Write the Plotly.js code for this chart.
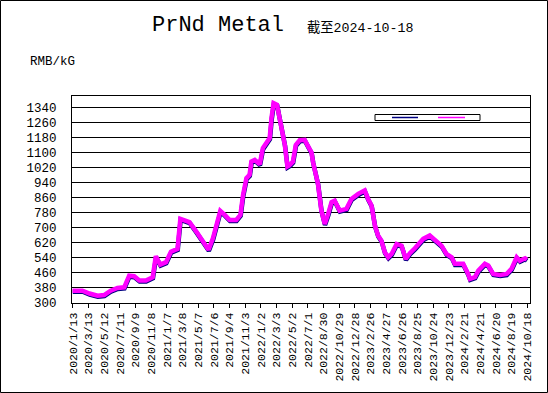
<!DOCTYPE html>
<html><head><meta charset="utf-8">
<script src="https://cdn.plot.ly/plotly-3.0.1.min.js"></script>
<style>html,body{margin:0;padding:0;background:#fff}</style>
</head><body><div id="chart" style="width:548px;height:393px"></div>
<script>
const dates = ['2020-01-13','2020-02-20','2020-03-18','2020-04-18','2020-05-13','2020-06-07','2020-07-03','2020-07-29','2020-08-17','2020-09-05','2020-09-25','2020-10-20','2020-11-15','2020-11-27','2020-12-14','2021-01-05','2021-01-24','2021-02-18','2021-03-01','2021-03-22','2021-04-05','2021-05-01','2021-05-26','2021-06-17','2021-07-04','2021-07-17','2021-08-01','2021-08-18','2021-09-06','2021-10-01','2021-10-17','2021-10-27','2021-11-09','2021-11-21','2021-11-28','2021-12-11','2021-12-30','2022-01-11','2022-01-31','2022-02-06','2022-02-13','2022-02-21','2022-03-06','2022-03-16','2022-03-27','2022-04-05','2022-04-15','2022-04-24','2022-05-06','2022-05-17','2022-06-01','2022-06-20','2022-07-07','2022-07-16','2022-07-22','2022-07-29','2022-08-10','2022-08-23','2022-09-05','2022-09-18','2022-10-01','2022-10-13','2022-11-01','2022-11-27','2022-12-16','2023-01-11','2023-02-05','2023-02-18','2023-03-03','2023-03-16','2023-03-28','2023-04-10','2023-04-23','2023-05-06','2023-05-19','2023-06-07','2023-06-26','2023-07-12','2023-07-28','2023-08-16','2023-09-04','2023-09-17','2023-10-12','2023-11-07','2023-11-26','2023-12-15','2024-01-04','2024-01-16','2024-02-17','2024-03-07','2024-03-14','2024-04-02','2024-04-15','2024-05-10','2024-05-23','2024-06-11','2024-07-07','2024-08-01','2024-08-20','2024-09-09','2024-09-21','2024-10-11','2024-10-18'];
const prices = [360,360,345,333,337,360,375,378,440,437,414,414,432,544,499,512,568,583,743,734,725,675,622,578,640,711,785,764,737,737,764,870,960,977,1048,1057,1034,1120,1155,1173,1280,1360,1351,1280,1208,1137,1022,1030,1048,1137,1162,1164,1120,1098,1045,992,929,787,716,769,832,840,787,796,849,876,894,849,814,707,654,627,565,538,556,609,600,529,560,586,615,636,654,627,600,556,538,503,503,449,423,432,467,503,494,449,444,449,476,538,520,533,526];
const tickDates = ['2020-01-13','2020-03-13','2020-05-12','2020-07-11','2020-09-09','2020-11-08','2021-01-07','2021-03-08','2021-05-07','2021-07-06','2021-09-04','2021-11-03','2022-01-02','2022-03-03','2022-05-02','2022-07-01','2022-08-30','2022-10-29','2022-12-28','2023-02-26','2023-04-27','2023-06-26','2023-08-25','2023-10-24','2023-12-23','2024-02-21','2024-04-21','2024-06-20','2024-08-19','2024-10-18'];
const tickLabels = ['2020/1/13','2020/3/13','2020/5/12','2020/7/11','2020/9/9','2020/11/8','2021/1/7','2021/3/8','2021/5/7','2021/7/6','2021/9/4','2021/11/3','2022/1/2','2022/3/3','2022/5/2','2022/7/1','2022/8/30','2022/10/29','2022/12/28','2023/2/26','2023/4/27','2023/6/26','2023/8/25','2023/10/24','2023/12/23','2024/2/21','2024/4/21','2024/6/20','2024/8/19','2024/10/18'];
const yTicks = [300,380,460,540,620,700,780,860,940,1020,1100,1180,1260,1340];

const FONT = "'Liberation Mono', 'Noto Sans CJK SC', monospace";
const traces = [
  {x: dates, y: prices, type:'scatter', mode:'lines', name:'navy',
   line:{color:'#000080', width:4.5}},
  {x: dates, y: prices, type:'scatter', mode:'lines', name:'magenta', xaxis:'x2', yaxis:'y2',
   line:{color:'#ff00ff', width:4.5}}
];
const px = (x) => (x-72)/458, py = (y) => (303-y)/207;
const layout = {
  width:548, height:393,
  margin:{l:72, r:18, t:96, b:90, pad:0},
  paper_bgcolor:'#fff', plot_bgcolor:'#fff',
  font:{family:FONT, color:'#000', size:12},
  showlegend:false,
  xaxis:{type:'date', range:['2020-01-10','2024-10-29'], tickvals:tickDates, ticktext:tickLabels,
    tickangle:-90, ticks:'outside', ticklen:4, tickcolor:'#000', tickwidth:1,
    showgrid:false, showline:true, mirror:true, linecolor:'#000', linewidth:1,
    tickfont:{size:11.5, family:FONT}, zeroline:false},
  yaxis:{range:[300,1403], tickvals:yTicks, ticktext:yTicks.map(String),
    showgrid:true, gridcolor:'#000', gridwidth:1, showline:true, mirror:true,
    linecolor:'#000', linewidth:1, ticks:'', ticklabelstandoff:12,
    tickfont:{size:12.5, family:FONT}, zeroline:false},
  xaxis2:{type:'date', overlaying:'x', range:['2020-01-11','2024-10-30'], visible:false},
  yaxis2:{overlaying:'y', range:[294.5,1397.5], visible:false},
  annotations:[
    {text:'PrNd Metal', xref:'paper', yref:'paper', x:px(218), y:py(25),
     xanchor:'center', yanchor:'middle', showarrow:false, font:{size:22, family:FONT}},
    {text:'截至2024-10-18', xref:'paper', yref:'paper', x:px(360), y:py(28),
     xanchor:'center', yanchor:'middle', showarrow:false, font:{size:13.3, family:FONT}},
    {text:'RMB/kG', xref:'paper', yref:'paper', x:px(28), y:py(62),
     xanchor:'left', yanchor:'middle', showarrow:false, font:{size:12.5, family:FONT}}
  ],
  shapes:[
    {type:'rect', xref:'paper', yref:'paper', x0:px(0.5), x1:px(547.5),
     y0:py(392.5), y1:py(0.5), line:{color:'#000', width:1}, layer:'below'},
    {type:'rect', xref:'paper', yref:'paper', x0:px(375), x1:px(480),
     y0:py(120.5), y1:py(114.5), line:{color:'#000', width:1}, fillcolor:'#fff', layer:'above'},
    {type:'line', xref:'paper', yref:'paper', x0:px(392), x1:px(418),
     y0:py(117.5), y1:py(117.5), line:{color:'#000080', width:1.5}, layer:'above'},
    {type:'line', xref:'paper', yref:'paper', x0:px(438), x1:px(465),
     y0:py(117.5), y1:py(117.5), line:{color:'#ff00ff', width:1.5}, layer:'above'}
  ]
};
Plotly.newPlot('chart', traces, layout, {staticPlot:true, displayModeBar:false});
</script></body></html>
